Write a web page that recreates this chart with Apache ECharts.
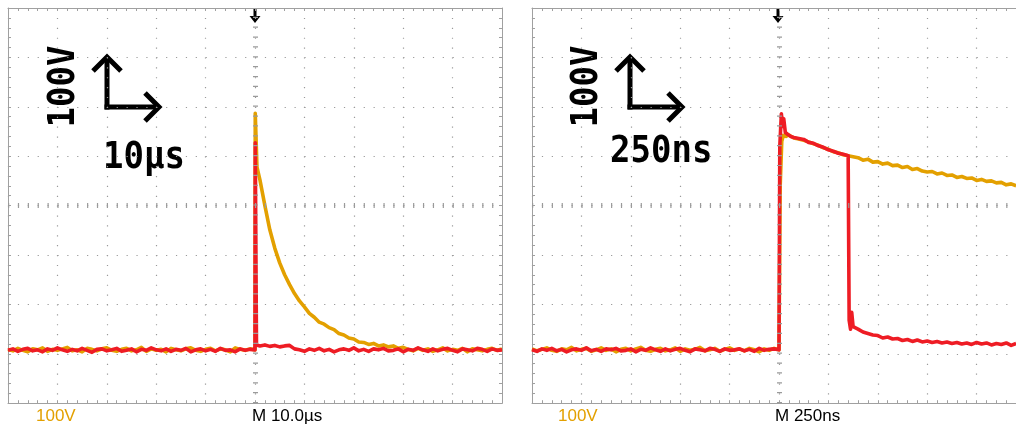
<!DOCTYPE html>
<html>
<head>
<meta charset="utf-8">
<script src="https://cdn.jsdelivr.net/npm/echarts@6/dist/echarts.min.js"></script>
<style>
  html, body { margin: 0; padding: 0; background: #ffffff; }
  #chart { width: 1016px; height: 425px; }
</style>
</head>
<body>
<div id="chart"></div>
<script>
// Two oscilloscope captures: 10 µs/div (left) and 250 ns/div (right), 100 V/div.
// Each trace is a list of [time, volts] samples.

// Left capture, time in µs
const leftOrange = [
  [-50,-291],[-49,-294],[-48,-289],[-47,-293],[-46,-296],[-45,-290],[-44,-292],[-43,-288],[-42,-295],[-41,-291],
  [-40,-293],[-39,-290],[-38,-287],[-37,-294],[-36,-292],[-35,-296],[-34,-289],[-33,-291],[-32,-294],[-31,-290],
  [-30,-288],[-29,-293],[-28,-295],[-27,-291],[-26,-289],[-25,-294],[-24,-292],[-23,-287],[-22,-295],[-21,-290],
  [-20,-293],[-19,-291],[-18,-296],[-17,-289],[-16,-292],[-15,-294],[-14,-290],[-13,-288],[-12,-293],[-11,-295],
  [-10,-291],[-9,-289],[-8,-294],[-7,-290],[-6,-292],[-5,-296],[-4,-288],[-3,-291],[-2,-293],[-1,-290],
  [0,-292],[0.05,187],[0.4,78],[1,52],[2,0],[3,-49],[4,-86],[5,-116],[6,-140],[7,-160],
  [8,-178],[9,-193],[10,-205],[11,-218],[12,-226],[13,-236],[14,-240],[15,-247],[16,-251],[17,-259],
  [18,-262],[19,-268],[20,-270],[21,-276],[22,-277],[23,-281],[24,-279],[25,-284],[26,-282],[27,-286],
  [28,-284],[29,-289],[30,-287],[31,-291],[32,-294],[33,-289],[34,-293],[35,-290],[36,-295],[37,-292],
  [38,-288],[39,-294],[40,-291],[41,-293],[42,-289],[43,-296],[44,-290],[45,-292],[46,-294],[47,-291],
  [48,-289],[49,-293],[50,-290]
];

const leftRed = [
  [-50,-293],[-49,-290],[-48,-295],[-47,-291],[-46,-289],[-45,-294],[-44,-292],[-43,-296],[-42,-290],[-41,-293],
  [-40,-288],[-39,-292],[-38,-295],[-37,-291],[-36,-294],[-35,-289],[-34,-293],[-33,-297],[-32,-291],[-31,-290],
  [-30,-294],[-29,-292],[-28,-289],[-27,-295],[-26,-293],[-25,-290],[-24,-296],[-23,-291],[-22,-293],[-21,-288],
  [-20,-292],[-19,-294],[-18,-290],[-17,-295],[-16,-291],[-15,-293],[-14,-289],[-13,-296],[-12,-292],[-11,-290],
  [-10,-294],[-9,-291],[-8,-295],[-7,-289],[-6,-293],[-5,-292],[-4,-296],[-3,-290],[-2,-293],[-1,-291],
  [0,-292],[0.05,127],[0.3,-282],[1,-284],[2,-282],[3,-285],[4,-283],[5,-286],[6,-284],[7,-283],
  [8,-290],[9,-292],[10,-295],[11,-290],[12,-293],[13,-289],[14,-294],[15,-291],[16,-296],[17,-292],
  [18,-290],[19,-293],[20,-288],[21,-294],[22,-291],[23,-295],[24,-290],[25,-292],[26,-289],[27,-294],
  [28,-293],[29,-290],[30,-296],[31,-291],[32,-293],[33,-288],[34,-292],[35,-295],[36,-290],[37,-294],
  [38,-291],[39,-289],[40,-293],[41,-296],[42,-290],[43,-292],[44,-294],[45,-289],[46,-291],[47,-295],
  [48,-290],[49,-293],[50,-292]
];

// Right capture, time in ns (the screen is cut off just before its right edge)
const rightOrange = [
  [-1250,-290],[-1225,-294],[-1200,-291],[-1175,-288],[-1150,-293],[-1125,-295],[-1100,-290],[-1075,-292],[-1050,-287],[-1025,-294],
  [-1000,-291],[-975,-289],[-950,-295],[-925,-292],[-900,-288],[-875,-293],[-850,-290],[-825,-296],[-800,-291],[-775,-289],
  [-750,-294],[-725,-290],[-700,-287],[-675,-293],[-650,-295],[-625,-291],[-600,-289],[-575,-294],[-550,-292],[-525,-288],
  [-500,-295],[-475,-290],[-450,-293],[-425,-291],[-400,-287],[-375,-294],[-350,-292],[-325,-289],[-300,-295],[-275,-291],
  [-250,-288],[-225,-293],[-200,-290],[-175,-294],[-150,-289],[-125,-292],[-100,-296],[-75,-290],[-50,-293],[-25,-289],
  [0,-292],[6,40],[14,130],[22,142],[35,140],[50,143],[75,137],[100,135],[125,132],[150,129],
  [175,125],[200,122],[225,117],[250,114],[275,109],[300,107],[325,103],[350,101],[375,99],[400,97],
  [425,92],[450,94],[475,88],[500,89],[525,84],[550,86],[575,81],[600,82],[625,77],[650,79],
  [675,73],[700,75],[725,70],[750,68],[775,69],[800,64],[825,66],[850,61],[875,62],[900,57],
  [925,59],[950,55],[975,56],[1000,51],[1025,53],[1050,49],[1075,50],[1100,46],[1125,47],[1150,42],
  [1175,44],[1200,40]
];

const rightRed = [
  [-1250,-292],[-1225,-295],[-1200,-290],[-1175,-293],[-1150,-289],[-1125,-294],[-1100,-291],[-1075,-296],[-1050,-292],[-1025,-290],
  [-1000,-293],[-975,-288],[-950,-294],[-925,-291],[-900,-295],[-875,-290],[-850,-292],[-825,-289],[-800,-294],[-775,-293],
  [-750,-290],[-725,-296],[-700,-291],[-675,-293],[-650,-288],[-625,-292],[-600,-295],[-575,-290],[-550,-294],[-525,-291],
  [-500,-289],[-475,-293],[-450,-296],[-425,-290],[-400,-292],[-375,-294],[-350,-289],[-325,-291],[-300,-295],[-275,-290],
  [-250,-293],[-225,-292],[-200,-290],[-175,-294],[-150,-291],[-125,-295],[-100,-289],[-75,-293],[-50,-291],[-25,-290],
  [0,-292],[4,120],[12,186],[18,160],[24,176],[32,148],[45,144],[60,140],[75,138],[100,136],
  [125,134],[150,128],[175,126],[200,121],[225,118],[250,113],[275,110],[300,106],[325,104],[350,101],
  [355,-232],[362,-250],[368,-216],[375,-245],[400,-250],[425,-256],[450,-259],[475,-262],[500,-263],[525,-268],
  [550,-266],[575,-270],[600,-269],[625,-273],[650,-271],[675,-275],[700,-272],[725,-276],[750,-274],[775,-277],
  [800,-275],[825,-278],[850,-276],[875,-279],[900,-277],[925,-280],[950,-278],[975,-281],[1000,-277],[1025,-280],
  [1050,-278],[1075,-282],[1100,-279],[1125,-281],[1150,-278],[1175,-283],[1200,-279]
];

// Axis ranges: [min, max, interval]
const DIV = 49.4;                                  // pixels per division
const leftTimeRange = [-50, 50, 10];               // µs
const rightVisibleDivs = (1016 - 532) / DIV;       // width of the right screen left on the page
const rightTimeRange = [-1250, -1250 + rightVisibleDivs * 250, 250]; // ns
const voltRange = [-400, 400, 100];                // V

const GRID_GRAY = '#a0a0a0';
const DOT_GRAY = '#9a9a9a';
const ORANGE = '#e3a000';
const RED = '#ee1c24';
const DOT = [1.2, DIV / 5 - 1.2];

function frameAxis(extra) {
  return Object.assign({
    type: 'value',
    axisLine: { show: true, onZero: false, lineStyle: { color: GRID_GRAY, width: 1 } },
    axisTick: { show: true, inside: true, length: 3, lineStyle: { color: GRID_GRAY } },
    minorTick: { show: true, splitNumber: 5, length: 3, lineStyle: { color: GRID_GRAY } },
    axisLabel: { show: false },
    splitLine: { show: false }
  }, extra);
}

function gridSplit() {
  return { show: true, showMaxLine: false, lineStyle: { color: DOT_GRAY, width: 1.2, type: DOT } };
}

function timeAxis(gridIndex, range, position, split) {
  return frameAxis({
    gridIndex, position, min: range[0], max: range[1], interval: range[2],
    splitLine: split ? gridSplit() : { show: false }
  });
}

function voltAxis(gridIndex, position, split, show) {
  return frameAxis({
    gridIndex, position, show: show !== false, min: voltRange[0], max: voltRange[1], interval: voltRange[2],
    splitLine: split ? gridSplit() : { show: false }
  });
}

// Center cross of each screen: short tick dashes every fifth of a division
function centerCross(xAxisIndex, yAxisIndex) {
  return {
    type: 'line', xAxisIndex, yAxisIndex, data: [], z: 1, silent: true,
    markLine: {
      silent: true, symbol: 'none', animation: false,
      label: { show: false },
      lineStyle: { color: DOT_GRAY, width: 5, type: DOT, cap: 'butt' },
      data: [{ yAxis: 0 }, { xAxis: 0 }]
    }
  };
}

function trace(data, color, xAxisIndex, yAxisIndex, z) {
  return {
    type: 'line', data, xAxisIndex, yAxisIndex, z,
    showSymbol: false, symbol: 'none', animation: false, silent: true,
    lineStyle: { color, width: 3.6, join: 'round' }
  };
}

function triggerMark(cx) {
  return [
    { type: 'rect', shape: { x: cx - 1.5, y: 9, width: 3, height: 9 }, style: { fill: '#000' } },
    { type: 'polygon', shape: { points: [[cx - 5.5, 16], [cx + 5.5, 16], [cx, 23]] }, style: { fill: '#000' } }
  ];
}

function scaleArrows(x0, yTop, yCorner, xRight) {
  const s = { stroke: '#000', lineWidth: 5, fill: null, lineJoin: 'miter', lineCap: 'butt' };
  return [
    { type: 'polyline', shape: { points: [[x0, yCorner + 2.5], [x0, yTop + 2]] }, style: s },
    { type: 'polyline', shape: { points: [[x0 - 2.5, yCorner], [xRight - 2, yCorner]] }, style: s },
    { type: 'polyline', shape: { points: [[x0 - 14, yTop + 15], [x0, yTop + 1], [x0 + 14, yTop + 15]] }, style: s },
    { type: 'polyline', shape: { points: [[xRight - 15, yCorner - 14], [xRight - 1, yCorner], [xRight - 15, yCorner + 14]] }, style: s }
  ];
}

const bigFont = 'bold 34px "DejaVu Sans Mono"';
function bigText(text, x, y, rotate) {
  return {
    type: 'text', x, y, rotation: rotate ? Math.PI / 2 : 0, scaleY: 1.1,
    style: { text, font: bigFont, fill: '#000', align: rotate ? 'center' : 'left', verticalAlign: 'middle' }
  };
}
function smallText(text, x, color) {
  return {
    type: 'text', x, y: 416.5,
    style: { text, fill: color, fontSize: 17, fontFamily: '"Liberation Sans", Arial, sans-serif', align: 'left', verticalAlign: 'middle' }
  };
}

const chart = echarts.init(document.getElementById('chart'), null, { renderer: 'canvas' });
chart.setOption({
  backgroundColor: '#ffffff',
  animation: false,
  grid: [
    { left: 8, top: 8, width: DIV * 10, height: DIV * 8 },
    { left: 532, top: 8, width: DIV * rightVisibleDivs, height: DIV * 8 }
  ],
  xAxis: [
    timeAxis(0, leftTimeRange, 'bottom', true),
    timeAxis(0, leftTimeRange, 'top', false),
    timeAxis(1, rightTimeRange, 'bottom', true),
    timeAxis(1, rightTimeRange, 'top', false)
  ],
  yAxis: [
    voltAxis(0, 'left', true),
    voltAxis(0, 'right', false),
    voltAxis(1, 'left', true),
    voltAxis(1, 'right', false, false)
  ],
  series: [
    centerCross(0, 0),
    centerCross(2, 2),
    trace(leftOrange, ORANGE, 0, 0, 3),
    trace(leftRed, RED, 0, 0, 4),
    trace(rightOrange, ORANGE, 2, 2, 3),
    trace(rightRed, RED, 2, 2, 4)
  ],
  graphic: [
    ...triggerMark(255),
    ...triggerMark(778),
    ...scaleArrows(107, 56, 107, 160),
    ...scaleArrows(630, 56, 107, 683),
    bigText('100V', 64, 86.5, true),
    bigText('10µs', 103, 158, false),
    bigText('100V', 587, 86.5, true),
    bigText('250ns', 610, 152, false),
    smallText('100V', 36, ORANGE),
    smallText('M 10.0µs', 252, '#000'),
    smallText('100V', 558, ORANGE),
    smallText('M 250ns', 775, '#000')
  ]
});
</script>
</body>
</html>
